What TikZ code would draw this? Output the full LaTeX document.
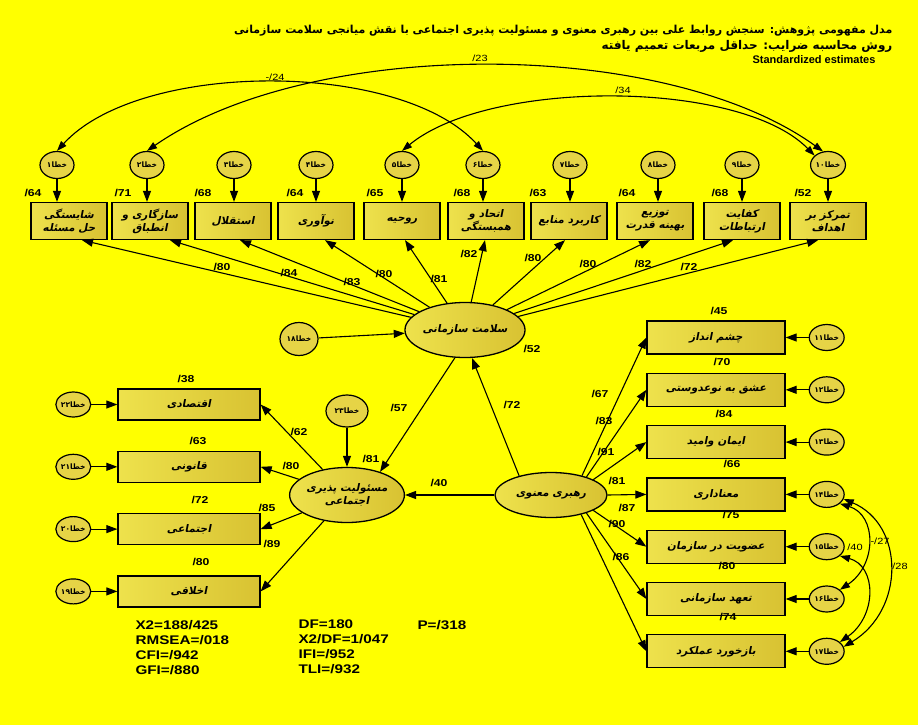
\documentclass[tikz,border=0pt]{standalone}
\usepackage{fontspec}
\setmainfont{Liberation Sans}
\newfontfamily\amosfont[FakeStretch=1.22]{Liberation Sans}
\newfontfamily\fa[Script=Arabic]{DejaVu Sans}
\newfontfamily\fasl[Script=Arabic,FakeSlant=0.2]{DejaVu Sans}
\TeXXeTstate=1
\usetikzlibrary{shapes.geometric,arrows.meta,positioning,calc}
\definecolor{amosbg}{RGB}{255,255,0}
\definecolor{boxlight}{RGB}{238,226,76}
\definecolor{boxdark}{RGB}{216,194,50}
\definecolor{errfill}{RGB}{230,212,70}
\newcommand{\rtl}[1]{\beginR #1\endR}
\newcommand{\errtxt}[1]{\beginR خطا\beginL #1\endL\endR}
\newcommand{\ldg}[1]{\mbox{/}#1}

\begin{document}
\begin{tikzpicture}[x=1pt, y=-1pt, line width=1.1pt]
    \tikzset{
        obs/.style={draw, rectangle, left color=boxlight, right color=boxdark, minimum width=76pt, minimum height=37pt, inner sep=1pt, align=center, line width=1.3pt, font=\fasl\bfseries\fontsize{10.5}{13}\selectfont},
        obsr/.style={obs, minimum width=138pt, minimum height=33pt},
        obsl/.style={obs, minimum width=142pt, minimum height=31pt},
        lat/.style={draw, ellipse, left color=boxlight, right color=boxdark, minimum width=111pt, minimum height=55pt, inner sep=0pt, align=center, line width=1.3pt, font=\fasl\bfseries\fontsize{10.5}{13}\selectfont},
        errc/.style={draw, ellipse, fill=errfill, minimum width=34pt, minimum height=27pt, inner sep=0pt, line width=1.2pt, font=\fa\bfseries\fontsize{7.5}{8}\selectfont},
        est/.style={inner sep=0pt, font=\amosfont\bfseries\fontsize{10}{12}\selectfont},
        covl/.style={inner sep=0pt, font=\amosfont\fontsize{9}{11}\selectfont},
        stat/.style={inner sep=0pt, align=left, font=\amosfont\bfseries\fontsize{12.5}{15}\selectfont},
        title/.style={inner sep=0pt, font=\fa\bfseries\fontsize{11}{13}\selectfont},
        line/.style={draw, -{Triangle[length=11pt,width=8pt]}},
        cov/.style={draw, {Triangle[length=10pt,width=7pt]}-{Triangle[length=10pt,width=7pt]}}
    }
    \fill[amosbg] (0,0) rectangle (918,725);
    \useasboundingbox (0,0) rectangle (918,725);

    % title
    \node [title, anchor=east] (title1) at (893,31) {\rtl{مدل مفهومی پژوهش: سنجش روابط علی بین رهبری معنوی و مسئولیت پذیری اجتماعی با نقش میانجی سلامت سازمانی}};
    \node [title, anchor=east, font=\fa\bfseries\fontsize{12}{13}\selectfont] (title2) at (893,46) {\rtl{روش محاسبه ضرایب: حداقل مربعات تعمیم یافته}};
    \node [inner sep=0pt, anchor=east, font=\bfseries\fontsize{11}{12}\selectfont] (stdest) at (876,60) {Standardized estimates};

    % organisational health indicators
    \node [obs] (o1) at (69,221) {\rtl{شایستگی}\\\rtl{حل مسئله}};
    \node [obs] (o2) at (150,221) {\rtl{سازگاری و}\\\rtl{انطباق}};
    \node [obs] (o3) at (233,221) {\rtl{استقلال}};
    \node [obs] (o4) at (316,221) {\rtl{نوآوری}};
    \node [obs] (o5) at (402,221) {\rtl{روحیه}};
    \node [obs] (o6) at (486,221) {\rtl{اتحاد و}\\\rtl{همبستگی}};
    \node [obs] (o7) at (569,221) {\rtl{کاربرد منابع}};
    \node [obs] (o8) at (655,221) {\rtl{توزیع}\\\rtl{بهینه قدرت}};
    \node [obs] (o9) at (742,221) {\rtl{کفایت}\\\rtl{ارتباطات}};
    \node [obs] (o10) at (828,221) {\rtl{تمرکز بر}\\\rtl{اهداف}};

    \node [errc] (e1) at (57,165) {\errtxt{۱}};
    \node [errc] (e2) at (147,165) {\errtxt{۲}};
    \node [errc] (e3) at (234,165) {\errtxt{۳}};
    \node [errc] (e4) at (316,165) {\errtxt{۴}};
    \node [errc] (e5) at (402,165) {\errtxt{۵}};
    \node [errc] (e6) at (483,165) {\errtxt{۶}};
    \node [errc] (e7) at (570,165) {\errtxt{۷}};
    \node [errc] (e8) at (658,165) {\errtxt{۸}};
    \node [errc] (e9) at (742,165) {\errtxt{۹}};
    \node [errc] (e10) at (828,165) {\errtxt{۱۰}};

    \node [est] (r2o1) at (33,193) {\ldg{64}};
    \node [est] (r2o2) at (123,193) {\ldg{71}};
    \node [est] (r2o3) at (203,193) {\ldg{68}};
    \node [est] (r2o4) at (295,193) {\ldg{64}};
    \node [est] (r2o5) at (375,193) {\ldg{65}};
    \node [est] (r2o6) at (462,193) {\ldg{68}};
    \node [est] (r2o7) at (538,193) {\ldg{63}};
    \node [est] (r2o8) at (627,193) {\ldg{64}};
    \node [est] (r2o9) at (720,193) {\ldg{68}};
    \node [est] (r2o10) at (803,193) {\ldg{52}};

    % latent variables
    \node [lat] (health) at (465,330) {\rtl{سلامت سازمانی}};
    \node [lat] (csr) at (347,495) {\rtl{مسئولیت پذیری}\\\rtl{اجتماعی}};
    \node [lat, minimum width=112pt, minimum height=45pt] (lead) at (551,495) {\rtl{رهبری معنوی}};
    \node [errc, minimum width=38pt, minimum height=33pt] (e18) at (299,339) {\errtxt{۱۸}};
    \node [errc, minimum width=42pt, minimum height=32pt] (e23) at (347,411) {\errtxt{۲۳}};

    % spiritual leadership indicators
    \node [obsr] (s1) at (716,337.5) {\rtl{چشم انداز}};
    \node [obsr, below=18pt of s1] (s2) {\rtl{عشق به نوعدوستی}};
    \node [obsr, below=18pt of s2] (s3) {\rtl{ایمان وامید}};
    \node [obsr, below=18pt of s3] (s4) {\rtl{معناداری}};
    \node [obsr, below=18pt of s4] (s5) {\rtl{عضویت در سازمان}};
    \node [obsr, below=18pt of s5] (s6) {\rtl{تعهد سازمانی}};
    \node [obsr, below=18pt of s6] (s7) {\rtl{بازخورد عملکرد}};
    \node [errc, minimum height=26pt, right=23pt of s1] (e11) {\errtxt{۱۱}};
    \node [errc, minimum height=26pt, right=23pt of s2] (e12) {\errtxt{۱۲}};
    \node [errc, minimum height=26pt, right=23pt of s3] (e13) {\errtxt{۱۳}};
    \node [errc, minimum height=26pt, right=23pt of s4] (e14) {\errtxt{۱۴}};
    \node [errc, minimum height=26pt, right=23pt of s5] (e15) {\errtxt{۱۵}};
    \node [errc, minimum height=26pt, right=23pt of s6] (e16) {\errtxt{۱۶}};
    \node [errc, minimum height=26pt, right=23pt of s7] (e17) {\errtxt{۱۷}};
    \node [est] (r2s1) at (719,311) {\ldg{45}};
    \node [est] (r2s2) at (722,362) {\ldg{70}};
    \node [est] (r2s3) at (724,414) {\ldg{84}};
    \node [est] (r2s4) at (732,464) {\ldg{66}};
    \node [est] (r2s5) at (731,515) {\ldg{75}};
    \node [est] (r2s6) at (727,566) {\ldg{80}};
    \node [est] (r2s7) at (728,617) {\ldg{74}};

    % social responsibility indicators
    \node [obsl] (c1) at (189,404.5) {\rtl{اقتصادی}};
    \node [obsl, below=30pt of c1] (c2) {\rtl{قانونی}};
    \node [obsl, below=30pt of c2] (c3) {\rtl{اجتماعی}};
    \node [obsl, below=30pt of c3] (c4) {\rtl{اخلاقی}};
    \node [errc, minimum width=33pt, minimum height=25pt, left=26pt of c1] (e22) {\errtxt{۲۲}};
    \node [errc, minimum width=33pt, minimum height=25pt, left=26pt of c2] (e21) {\errtxt{۲۱}};
    \node [errc, minimum width=33pt, minimum height=25pt, left=26pt of c3] (e20) {\errtxt{۲۰}};
    \node [errc, minimum width=33pt, minimum height=25pt, left=26pt of c4] (e19) {\errtxt{۱۹}};
    \node [est] (r2c1) at (186,379) {\ldg{38}};
    \node [est] (r2c2) at (198,441) {\ldg{63}};
    \node [est] (r2c3) at (200,500) {\ldg{72}};
    \node [est] (r2c4) at (201,562) {\ldg{80}};

    % error terms
    \path [line] (e1) -- (e1 |- o1.north);
    \path [line] (e2) -- (e2 |- o2.north);
    \path [line] (e3) -- (e3 |- o3.north);
    \path [line] (e4) -- (e4 |- o4.north);
    \path [line] (e5) -- (e5 |- o5.north);
    \path [line] (e6) -- (e6 |- o6.north);
    \path [line] (e7) -- (e7 |- o7.north);
    \path [line] (e8) -- (e8 |- o8.north);
    \path [line] (e9) -- (e9 |- o9.north);
    \path [line] (e10) -- (e10 |- o10.north);
    \path [line] (e11) -- (s1);
    \path [line] (e12) -- (s2);
    \path [line] (e13) -- (s3);
    \path [line] (e14) -- (s4);
    \path [line] (e15) -- (s5);
    \path [line] (e16) -- (s6);
    \path [line] (e17) -- (s7);
    \path [line] (e22) -- (c1);
    \path [line] (e21) -- (c2);
    \path [line] (e20) -- (c3);
    \path [line] (e19) -- (c4);
    \path [line] (e18) -- (health);
    \path [line] (e23) -- (csr);

    % loadings
    \path [line] (health) -- ([xshift=13pt]o1.south);
    \path [line] (health) -- ([xshift=20pt]o2.south);
    \path [line] (health) -- ([xshift=7pt]o3.south);
    \path [line] (health) -- ([xshift=9pt]o4.south);
    \path [line] (health) -- ([xshift=3pt]o5.south);
    \path [line] (health) -- ([xshift=-1pt]o6.south);
    \path [line] (health) -- ([xshift=-4pt]o7.south);
    \path [line] (health) -- ([xshift=-5pt]o8.south);
    \path [line] (health) -- ([xshift=-9pt]o9.south);
    \path [line] (health) -- ([xshift=-10pt]o10.south);
    \path [line] (lead.32) -- (s1.west);
    \path [line] (lead.27) -- (s2.west);
    \path [line] (lead.20) -- (s3.west);
    \path [line] (lead.east) -- (s4.west);
    \path [line] (lead.-20) -- (s5.west);
    \path [line] (lead.-27) -- (s6.west);
    \path [line] (lead.-33) -- (s7.west);
    \path [line] (csr) -- (c1.east);
    \path [line] (csr) -- (c2.east);
    \path [line] (csr) -- (c3.east);
    \path [line] (csr) -- (c4.east);

    % structural paths
    \path [line] (lead.149) -- (health.-76);
    \path [line] (lead) -- (csr);
    \path [line] (health.250) -- (csr.35);

    \node [est] (l1) at (222,267) {\ldg{80}};
    \node [est] (l2) at (289,273) {\ldg{84}};
    \node [est] (l3) at (352,282) {\ldg{83}};
    \node [est] (l4) at (384,274) {\ldg{80}};
    \node [est] (l5) at (439,279) {\ldg{81}};
    \node [est] (l6) at (469,254) {\ldg{82}};
    \node [est] (l7) at (533,258) {\ldg{80}};
    \node [est] (l8) at (588,264) {\ldg{80}};
    \node [est] (l9) at (643,264) {\ldg{82}};
    \node [est] (l10) at (689,267) {\ldg{72}};
    \node [est] (k1) at (600,394) {\ldg{67}};
    \node [est] (k2) at (604,421) {\ldg{83}};
    \node [est] (k3) at (606,452) {\ldg{91}};
    \node [est] (k4) at (617,481) {\ldg{81}};
    \node [est] (k5) at (627,508) {\ldg{87}};
    \node [est] (k6) at (617,524) {\ldg{90}};
    \node [est] (k7) at (621,557) {\ldg{86}};
    \node [est] (m1) at (299,432) {\ldg{62}};
    \node [est] (m2) at (291,466) {\ldg{80}};
    \node [est] (m3) at (267,508) {\ldg{85}};
    \node [est] (m4) at (272,544) {\ldg{89}};
    \node [est] (p1) at (512,405) {\ldg{72}};
    \node [est] (p2) at (439,483) {\ldg{40}};
    \node [est] (p3) at (399,408) {\ldg{57}};
    \node [est] (r2h) at (532,349) {\ldg{52}};
    \node [est] (r2c) at (371,459) {\ldg{81}};

    % correlated errors
    \draw [cov] (e1.north) .. controls (140,60) and (400,60) .. (e6.north);
    \draw [cov] (e2.north) .. controls (311,37) and (664,37) .. (e10.110);
    \draw [cov] (e5.north) .. controls (489,79) and (740,79) .. (e10.145);
    \draw [cov] (e14.-35) .. controls (877,515) and (877,565) .. (e16.35);
    \draw [cov] (e15.-35) .. controls (877,566) and (877,616) .. (e17.35);
    \draw [cov] (e14.-15) .. controls (905,525) and (905,610) .. (e17.15);
    \node [covl] (c16) at (275,77) {-\ldg{24}};
    \node [covl] (c210) at (480,58) {\ldg{23}};
    \node [covl] (c510) at (623,90) {\ldg{34}};
    \node [covl] (c1416) at (855,547) {\ldg{40}};
    \node [covl] (c1517) at (880,541) {-\ldg{27}};
    \node [covl] (c1417) at (900,566) {\ldg{28}};

    % fit indices
    \node [stat, anchor=north west] (fit1) at (135,619.5) {X2=188/425\\RMSEA=/018\\CFI=/942\\GFI=/880};
    \node [stat, anchor=north west] (fit2) at (298,619.5) {DF=180\\X2/DF=1/047\\IFI=/952\\TLI=/932};
    \node [stat, anchor=north west] (fit3) at (417,619.5) {P=/318};
\end{tikzpicture}
\end{document}
